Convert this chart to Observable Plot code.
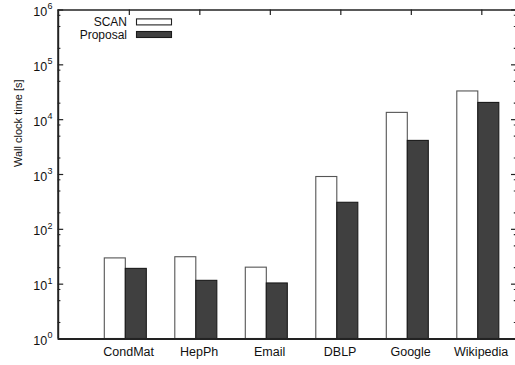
<!DOCTYPE html>
<html><head><meta charset="utf-8">
<script src="https://cdn.jsdelivr.net/npm/d3@7"></script>
<script src="https://cdn.jsdelivr.net/npm/@observablehq/plot@0.6"></script>
<style>
html,body{margin:0;padding:0;background:#fff;overflow:hidden}
#chart{position:relative;width:515px;height:365px}
svg{font-family:"Liberation Sans",Arial,Helvetica,sans-serif}
</style></head><body><div id="chart"></div>
<script>
const categories = ["CondMat", "HepPh", "Email", "DBLP", "Google", "Wikipedia"];
const seriesNames = ["SCAN", "Proposal"];
const scanTimes = [29.5, 31, 20, 900, 13300, 32700];
const proposalTimes = [19, 11.5, 10.3, 305, 4100, 20200];
const yTickExponents = [0, 1, 2, 3, 4, 5, 6];
const minorTickMultipliers = [2, 5, 8];
const yAxisLabel = "Wall clock time [s]";

const seriesFill = {SCAN: "#ffffff", Proposal: "#404040"};
const seriesStroke = {SCAN: "#555555", Proposal: "#1a1a1a"};

const X0 = -0.959, X1 = 5.549;
const PX = 1 / 70.5;              // x units per pixel
const DEC = 329 / 6;              // pixels per decade
const barW = 0.298;

const bars = [];
categories.forEach((c, i) => {
  bars.push({cat: c, series: "SCAN", x1: i - barW, x2: i, value: scanTimes[i]});
  bars.push({cat: c, series: "Proposal", x1: i, x2: i + barW, value: proposalTimes[i]});
});
const majors = yTickExponents.map(e => 10 ** e);
const minors = [];
yTickExponents.slice(0, -1).forEach(e => minorTickMultipliers.forEach(m => minors.push(m * 10 ** e)));
const catIdx = categories.map((c, i) => ({c, i}));

const chart = Plot.plot({
  width: 515, height: 365,
  marginLeft: 57.7, marginRight: -1.5, marginTop: 9.5, marginBottom: 26.5,
  style: {fontFamily: '"Liberation Sans", Arial, Helvetica, sans-serif', fontSize: "12.5px", color: "#111", background: "#fff"},
  x: {type: "linear", domain: [X0, X1], axis: null},
  y: {type: "log", domain: [1, 1e6], axis: null},
  marks: [
    Plot.rectY(bars, {x1: "x1", x2: "x2", y1: 1, y2: "value",
      fill: d => seriesFill[d.series], stroke: d => seriesStroke[d.series], strokeWidth: 1.1}),
    // left & right ticks
    Plot.ruleY(majors, {y: d => d, x1: X0, x2: X0 + 5.5 * PX, stroke: "#222", strokeWidth: 1.2}),
    Plot.ruleY(minors, {y: d => d, x1: X0, x2: X0 + 2.7 * PX, stroke: "#222", strokeWidth: 1.1}),
    Plot.ruleY(majors, {y: d => d, x1: X1 - 5.5 * PX, x2: X1, stroke: "#222", strokeWidth: 1.2}),
    Plot.ruleY(minors, {y: d => d, x1: X1 - 2.7 * PX, x2: X1, stroke: "#222", strokeWidth: 1.1}),
    // top category ticks
    Plot.ruleX(catIdx, {x: d => d.i + 0.05, y1: 1e6, y2: 1e6 / 10 ** (5.5 / DEC), stroke: "#222", strokeWidth: 1.2}),
    // frame
    Plot.ruleY([1], {x1: X0, x2: X1, stroke: "#222", strokeWidth: 2}),
    Plot.ruleY([1e6], {x1: X0, x2: X1, stroke: "#222", strokeWidth: 1.5}),
    Plot.ruleX([X0], {y1: 1, y2: 1e6, stroke: "#222", strokeWidth: 2}),
    // y tick labels
    Plot.text(yTickExponents, {x: X0, y: e => 10 ** e, text: () => "10", textAnchor: "end", dx: -11, dy: 2, fontSize: 12.5, fill: "#111"}),
    Plot.text(yTickExponents, {x: X0, y: e => 10 ** e, text: e => String(e), textAnchor: "start", dx: -10.8, dy: -3.5, fontSize: 9, fill: "#111"}),
    // x labels
    Plot.text(catIdx, {x: d => d.i + 0.04, y: 1, text: d => d.c, dy: 13, fontSize: 12.5, fill: "#111"}),
    // y title
    Plot.text([yAxisLabel], {frameAnchor: "left", text: d => d, rotate: -90, dx: -40, dy: -7.5, fontSize: 11, fill: "#111"})
  ]
});
document.getElementById("chart").appendChild(chart);

// legend (inside plot, top-left)
const svg = d3.select(chart);
const lg = svg.append("g").attr("font-size", 12).attr("fill", "#111");
seriesNames.forEach((s, k) => {
  const cy = 21.9 + k * 12.6;
  lg.append("text").attr("x", 127).attr("y", cy).attr("text-anchor", "end")
    .attr("dominant-baseline", "central").text(s);
  lg.append("rect").attr("x", 136.5).attr("y", cy - 3).attr("width", 35).attr("height", 6)
    .attr("fill", seriesFill[s]).attr("stroke", k === 0 ? "#222" : "#1a1a1a").attr("stroke-width", 1.1);
});
</script></body></html>
